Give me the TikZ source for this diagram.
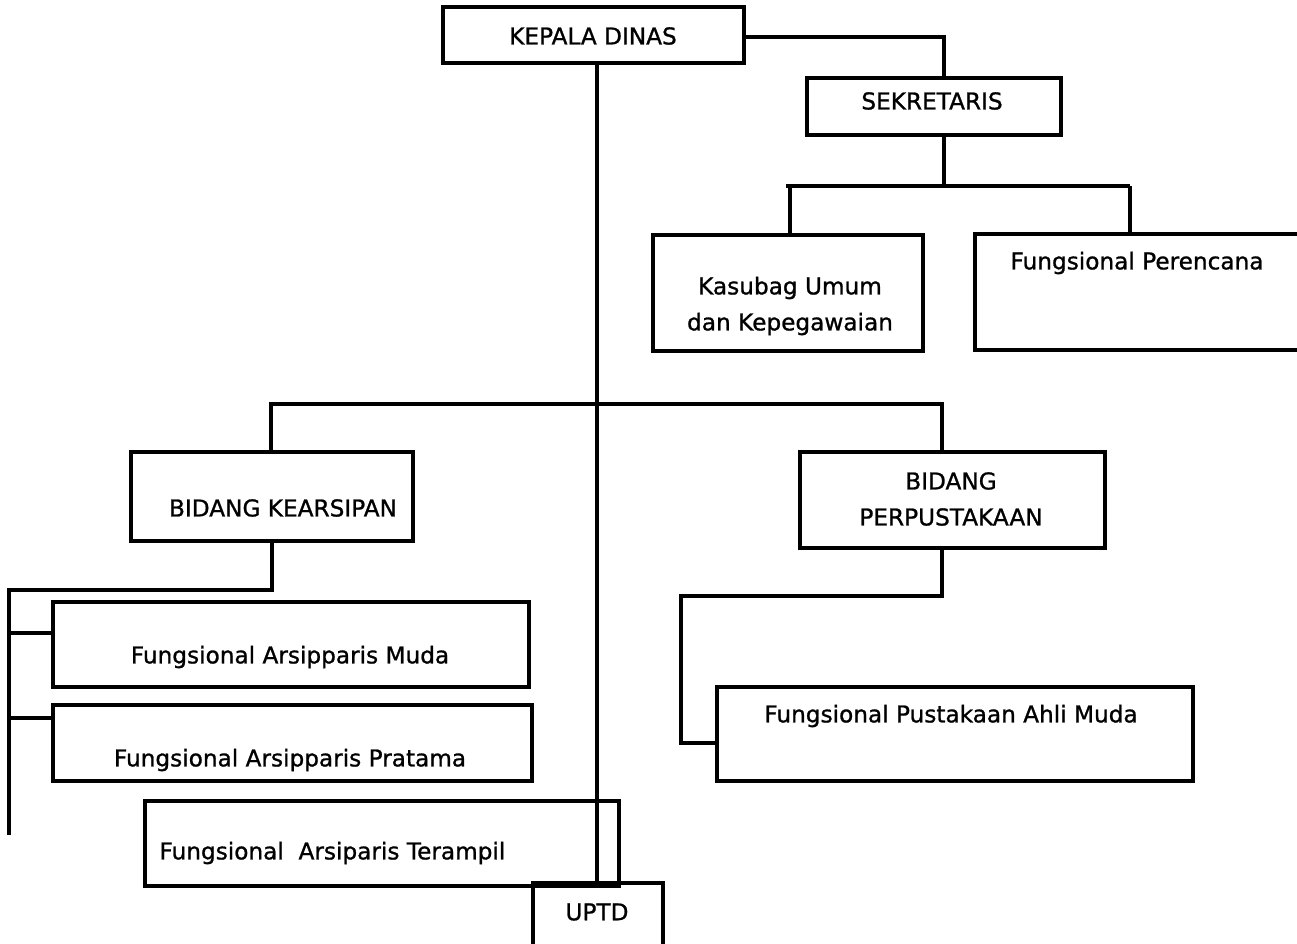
\documentclass[tikz,border=0pt]{standalone}
\usepackage{fontspec}
\setmainfont{DejaVu Sans}[FakeBold=1]
\usetikzlibrary{fit}
\tikzset{
  box/.style={draw, line width=1.75pt, inner sep=0pt},
  txt/.style={font=\fontsize{13.2}{20.5}\selectfont, align=center, inner sep=0pt},
}
\begin{document}
\begin{tikzpicture}[x=0.02cm, y=-0.02cm, line width=1.75pt]
        \useasboundingbox (0,0) rectangle (1297,943);

        % kepala dan sekretariat
        \node[box, fit={(443,7) (744,63)}] (kepala) {};
        \node[txt] (kepala-t) at (593,36) {KEPALA DINAS};
        \node[box, fit={(807,78) (1061,135)}] (sekretaris) {};
        \node[txt] (sekretaris-t) at (932,101) {SEKRETARIS};
        \node[box, fit={(653,235) (923,351)}] (kasubag) {};
        \node[txt] (kasubag-t) at (790,306) {Kasubag Umum\\dan Kepegawaian};
        \node[box, fit={(975,234) (1312,350)}] (perencana) {};
        \node[txt] (perencana-t) at (1137,263) {Fungsional Perencana};

        % bidang
        \node[box, fit={(131,452) (413,541)}] (kearsipan) {};
        \node[txt] (kearsipan-t) at (283,508) {BIDANG KEARSIPAN};
        \node[box, fit={(800,452) (1105,548)}] (perpustakaan) {};
        \node[txt] (perpustakaan-t) at (951,499) {BIDANG\\PERPUSTAKAAN};

        % fungsional
        \node[box, fit={(53,602) (529,687)}] (muda) {};
        \node[txt] (muda-t) at (290,657) {Fungsional Arsipparis Muda};
        \node[box, fit={(53,705) (532,781)}] (pratama) {};
        \node[txt] (pratama-t) at (290,760) {Fungsional Arsipparis Pratama};
        \node[box, fit={(145,801) (619,886)}] (terampil) {};
        \node[txt, anchor=west] (terampil-t) at (158,853) {Fungsional\ \ Arsiparis Terampil};
        \node[box, fit={(533,883) (663,965)}] (uptd) {};
        \node[txt] (uptd-t) at (597,912) {UPTD};
        \node[box, fit={(717,687) (1193,781)}] (pustakaan) {};
        \node[txt] (pustakaan-t) at (951,716) {Fungsional Pustakaan Ahli Muda};

        % garis
        \coordinate (jA) at (944,37);
        \coordinate (jK) at (597,404);
        \coordinate (sL) at (786,186);
        \coordinate (sR) at (1130,186);
        \coordinate (jB) at (942,404);
        \coordinate (kL) at (271,404);
        \coordinate (jC) at (9,590);
        \coordinate (jCend) at (9,835);
        \coordinate (kM) at (9,633);
        \coordinate (kP) at (9,718);
        \coordinate (jD) at (681,596);
        \coordinate (jE) at (681,743);

        \draw (kepala.east |- jA) -- (jA) -- (jA |- sekretaris.north);
        \draw (sekretaris.south -| 944,0) -- (sL -| 944,0);
        \draw (sL) -- (sR);
        \draw (sL -| 790,0) -- (kasubag.north -| 790,0);
        \draw (sR) -- (sR |- perencana.north);

        \draw (kepala.south -| jK) -- (uptd.north -| jK);
        \draw (kL |- kearsipan.north) -- (kL) -- (jB) -- (jB |- perpustakaan.north);

        \draw (kearsipan.south) -- (kearsipan.south |- jC) -- (jC) -- (jCend);
        \draw (kM) -- (kM -| muda.west);
        \draw (kP) -- (kP -| pratama.west);

        \draw (perpustakaan.south -| jB) -- (jD -| jB) -- (jD) -- (jE) -- (jE -| pustakaan.west);
\end{tikzpicture}
\end{document}
